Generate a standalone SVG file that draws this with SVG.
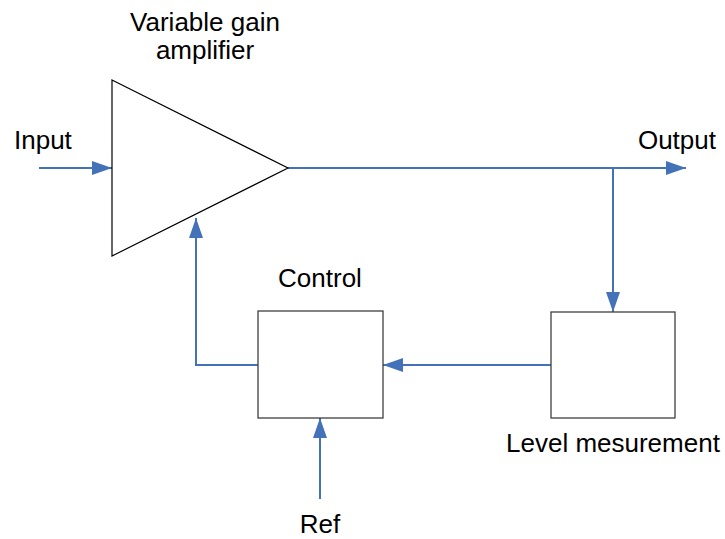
<svg xmlns="http://www.w3.org/2000/svg" width="725" height="539" viewBox="0 0 725 539">
<style>
text{font-family:"Liberation Sans",Arial,sans-serif;font-size:26px;fill:#000}
.box{fill:#fff;stroke:#404040;stroke-width:1.3}
.con{fill:none;stroke:#4472b8;stroke-width:2}
</style>
<defs>
<marker id="ah" viewBox="0 0 20 14" refX="20" refY="7" markerWidth="20" markerHeight="14" markerUnits="userSpaceOnUse" orient="auto">
<path d="M0,0 L20,7 L0,14 Z" fill="#4472b8"/>
</marker>
</defs>
<rect width="725" height="539" fill="#fff"/>
<g id="connectors">
<line class="con" x1="39" y1="168" x2="112" y2="168" marker-end="url(#ah)"/>
<line class="con" x1="288" y1="168" x2="686" y2="168" marker-end="url(#ah)"/>
<line class="con" x1="613" y1="168" x2="613" y2="312" marker-end="url(#ah)"/>
<line class="con" x1="551" y1="365" x2="383" y2="365" marker-end="url(#ah)"/>
<polyline class="con" points="258,365 196,365 196,218" marker-end="url(#ah)"/>
<line class="con" x1="320" y1="499" x2="320" y2="418" marker-end="url(#ah)"/>
</g>
<g id="amplifier">
<polygon points="112,80 288,168 112,256" fill="none" stroke="#000" stroke-width="1.2"/>
<text x="205" y="31" text-anchor="middle">Variable gain</text>
<text x="205" y="59" text-anchor="middle">amplifier</text>
</g>
<g id="input"><text x="14" y="149">Input</text></g>
<g id="output"><text x="716" y="149" text-anchor="end">Output</text></g>
<g id="control">
<rect class="box" x="258" y="311" width="125" height="107"/>
<text x="320" y="287" text-anchor="middle">Control</text>
</g>
<g id="level">
<rect class="box" x="551" y="312" width="124" height="106"/>
<text x="506" y="452">Level mesurement</text>
</g>
<g id="ref"><text x="320" y="533" text-anchor="middle">Ref</text></g>
</svg>
